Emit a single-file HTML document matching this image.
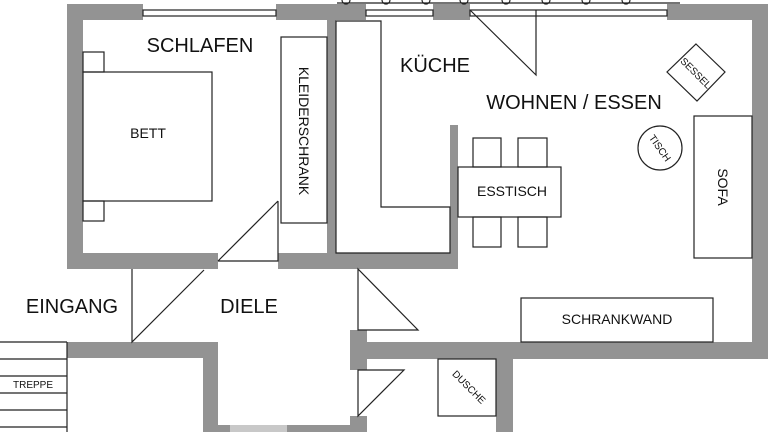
<!DOCTYPE html>
<html><head><meta charset="utf-8"><style>
html,body{margin:0;padding:0;background:#fff;}
svg{display:block;}
text{font-family:"Liberation Sans",sans-serif;fill:#111;}
</style></head><body>
<svg width="768" height="432" viewBox="0 0 768 432" xmlns="http://www.w3.org/2000/svg">
<g fill="#939393">
<!-- top walls -->
<rect x="67" y="4" width="76" height="16"/>
<rect x="276" y="4" width="90" height="16"/>
<rect x="433" y="4" width="37" height="16"/>
<rect x="667" y="4" width="101" height="16"/>
<!-- left wall -->
<rect x="67" y="4" width="16" height="265"/>
<!-- right wall -->
<rect x="752" y="4" width="16" height="355"/>
<!-- schlafen/kueche partition -->
<rect x="327" y="20" width="9" height="249"/>
<!-- bottom of schlafen -->
<rect x="67" y="253" width="151" height="16"/>
<rect x="278" y="253" width="180" height="16"/>
<!-- kitchen partition -->
<rect x="450" y="125" width="8" height="144"/>
<!-- lower walls -->
<rect x="67" y="342" width="151" height="16"/>
<rect x="203" y="342" width="15" height="90"/>
<rect x="203" y="425" width="27" height="7"/>
<rect x="287" y="425" width="73" height="7"/>
<rect x="350" y="330" width="17" height="40"/>
<rect x="350" y="416" width="17" height="16"/>
<rect x="367" y="342" width="401" height="17"/>
<rect x="496" y="358" width="17" height="74"/>
</g>
<rect x="230" y="425" width="57" height="7" fill="#c8c8c8"/>
<g fill="none" stroke="#222" stroke-width="1.2">
<!-- windows -->
<rect x="143" y="10" width="133" height="6"/>
<rect x="366" y="10" width="67" height="6"/>
<rect x="470" y="10" width="197" height="6"/>
<line x1="337" y1="3" x2="680" y2="3"/>
<path d="M342 0 a4 4 0 0 0 8 0 M382 0 a4 4 0 0 0 8 0 M422 0 a4 4 0 0 0 8 0 M460 0 a4 4 0 0 0 8 0 M502 0 a4 4 0 0 0 8 0 M542 0 a4 4 0 0 0 8 0 M582 0 a4 4 0 0 0 8 0 M622 0 a4 4 0 0 0 8 0"/>
<!-- bed -->
<rect x="83" y="72" width="129" height="129"/>
<rect x="83" y="52" width="21" height="20"/>
<rect x="83" y="201" width="21" height="20"/>
<!-- kleiderschrank -->
<rect x="281" y="37" width="46" height="186"/>
<!-- kitchen counter -->
<path d="M336 21 H381 V207 H450 V253 H336 Z"/>
<!-- doors -->
<path d="M218 261 H278 V201 M218 261 L278 201"/>
<path d="M132 269 V342 L204 270"/>
<path d="M358 269 V330 H418 Z"/>
<path d="M358 416 V370 H404 Z"/>
<path d="M470 10 L536 75 V10"/>
<!-- esstisch -->
<rect x="458" y="167" width="103" height="50"/>
<rect x="473" y="138" width="28" height="29"/>
<rect x="518" y="138" width="29" height="29"/>
<rect x="473" y="217" width="28" height="30"/>
<rect x="518" y="217" width="29" height="30"/>
<!-- sofa -->
<rect x="694" y="116" width="58" height="142"/>
<circle cx="660" cy="148" r="22"/>
<path d="M696 44 L725 72 L697 101 L667 72 Z"/>
<rect x="521" y="298" width="192" height="44"/>
<rect x="438" y="359" width="58" height="57"/>
<!-- treppe -->
<path d="M0 342 H67 M0 359 H67 M0 376 H67 M0 393 H67 M0 410 H67 M0 427 H67 M67 342 V432"/>
</g>
<text x="200" y="52" font-size="20" text-anchor="middle">SCHLAFEN</text>
<text x="435" y="72" font-size="20" text-anchor="middle">KÜCHE</text>
<text x="574" y="109" font-size="20" text-anchor="middle">WOHNEN / ESSEN</text>
<text x="148" y="138" font-size="14" text-anchor="middle">BETT</text>
<text x="512" y="196" font-size="14" text-anchor="middle">ESSTISCH</text>
<text x="617" y="324" font-size="14" text-anchor="middle">SCHRANKWAND</text>
<text x="72" y="313" font-size="20" text-anchor="middle">EINGANG</text>
<text x="249" y="313" font-size="20" text-anchor="middle">DIELE</text>
<text x="33" y="388" font-size="10" text-anchor="middle">TREPPE</text>
<text transform="translate(304,131) rotate(90)" font-size="14" text-anchor="middle" y="5">KLEIDERSCHRANK</text>
<text transform="translate(723,187) rotate(90)" font-size="14" text-anchor="middle" y="5">SOFA</text>
<text transform="translate(660,148) rotate(55)" font-size="10" text-anchor="middle" y="3.5">TISCH</text>
<text transform="translate(696,73) rotate(45)" font-size="10" text-anchor="middle" y="3.5">SESSEL</text>
<text transform="translate(469,387) rotate(45)" font-size="10" text-anchor="middle" y="3.5">DUSCHE</text>
</svg>
</body></html>
